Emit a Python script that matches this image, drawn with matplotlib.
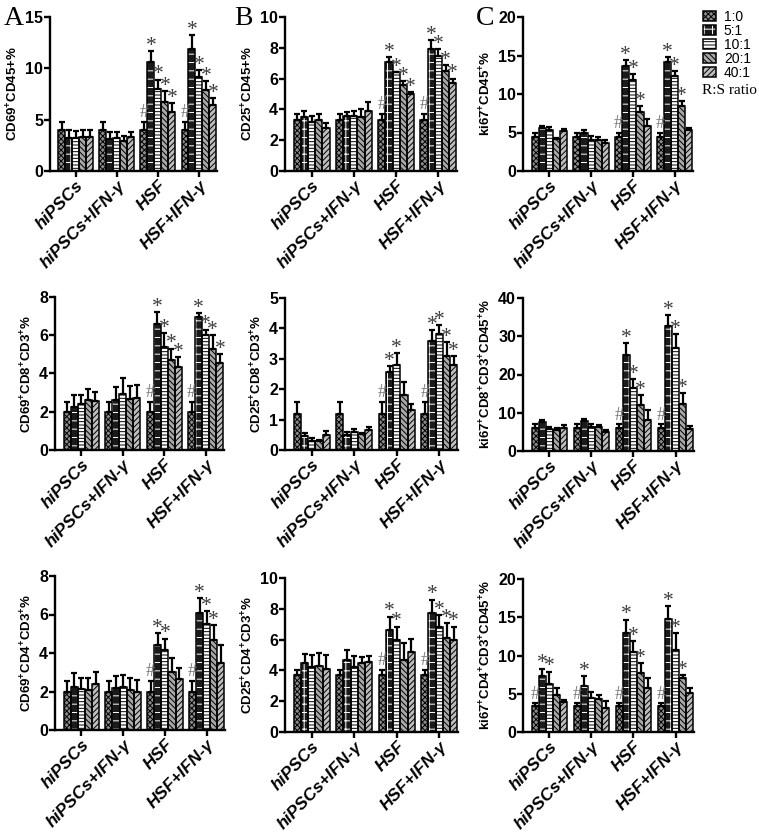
import numpy as np
import matplotlib.pyplot as plt
from matplotlib.patches import Patch

plt.rcParams['hatch.linewidth'] = 0.7
plt.rcParams['mathtext.fontset'] = 'custom'
plt.rcParams['mathtext.bf'] = 'Liberation Sans:bold'
plt.rcParams['mathtext.rm'] = 'Liberation Sans'

groups = ['hiPSCs', 'hiPSCs+IFN-γ', 'HSF', 'HSF+IFN-γ']
ratios = ['1:0', '5:1', '10:1', '20:1', '40:1']

# rows = groups, columns = ratios
cd69_cd45_mean = [[4.0, 3.2, 3.2, 3.3, 3.3], [4.0, 3.1, 3.2, 2.9, 3.3],
                  [4.0, 10.6, 8.0, 6.7, 5.7], [4.0, 11.9, 9.2, 7.9, 6.4]]
cd69_cd45_err = [[0.8, 0.8, 0.7, 0.7, 0.7], [0.8, 0.7, 0.6, 0.5, 0.5],
                 [0.8, 1.1, 0.9, 1.1, 0.9], [0.8, 1.3, 0.6, 0.9, 0.7]]
cd25_cd45_mean = [[3.3, 3.5, 3.2, 3.3, 2.8], [3.3, 3.6, 3.6, 3.5, 3.9],
                  [3.3, 7.1, 6.4, 5.6, 5.0], [3.3, 7.9, 7.5, 6.5, 5.7]]
cd25_cd45_err = [[0.4, 0.4, 0.4, 0.4, 0.3], [0.4, 0.2, 0.3, 0.5, 0.6],
                 [0.4, 0.3, 0.05, 0.25, 0.15], [0.4, 0.6, 0.4, 0.4, 0.3]]
ki67_cd45_mean = [[4.4, 5.6, 5.3, 4.1, 5.2], [4.4, 4.9, 4.0, 4.0, 3.7],
                  [4.4, 13.6, 11.8, 7.7, 5.8], [4.4, 14.2, 12.3, 8.4, 5.3]]
ki67_cd45_err = [[0.6, 0.2, 0.4, 0.2, 0.3], [0.6, 0.4, 0.5, 0.4, 0.3],
                 [0.6, 0.8, 0.8, 0.7, 1.0], [0.6, 0.6, 0.7, 0.7, 0.3]]

cd69_cd8_mean = [[2.0, 2.25, 2.4, 2.6, 2.55], [2.0, 2.6, 2.95, 2.65, 2.7],
                 [2.0, 6.6, 5.4, 4.7, 4.35], [2.0, 6.95, 6.0, 5.3, 4.55]]
cd69_cd8_err = [[0.5, 0.6, 0.5, 0.6, 0.5], [0.5, 0.7, 0.8, 0.7, 0.7],
                [0.5, 0.6, 0.7, 0.6, 0.5], [0.5, 0.2, 0.3, 0.7, 0.45]]
cd25_cd8_mean = [[1.2, 0.45, 0.3, 0.28, 0.5], [1.2, 0.5, 0.6, 0.52, 0.65],
                 [1.2, 2.55, 2.8, 1.8, 1.32], [1.2, 3.6, 3.8, 3.08, 2.8]]
cd25_cd8_err = [[0.38, 0.12, 0.1, 0.06, 0.12], [0.38, 0.1, 0.1, 0.03, 0.12],
                [0.38, 0.22, 0.38, 0.45, 0.18], [0.38, 0.35, 0.3, 0.48, 0.3]]
ki67_cd8_mean = [[6.0, 7.7, 5.7, 5.5, 6.0], [6.0, 7.8, 6.2, 6.3, 5.0],
                 [6.0, 25.0, 16.5, 12.0, 8.0], [6.0, 32.8, 26.8, 12.3, 5.8]]
ki67_cd8_err = [[1.0, 0.5, 0.5, 0.5, 0.8], [1.0, 0.5, 0.8, 0.5, 0.6],
                [1.0, 3.2, 2.3, 2.7, 2.7], [1.0, 2.8, 3.8, 2.9, 0.7]]

cd69_cd4_mean = [[2.0, 2.25, 2.15, 2.1, 2.4], [2.0, 2.2, 2.25, 2.1, 2.0],
                 [2.0, 4.4, 4.15, 3.0, 2.65], [2.0, 6.1, 5.5, 4.7, 3.5]]
cd69_cd4_err = [[0.55, 0.7, 0.55, 0.6, 0.6], [0.55, 0.6, 0.6, 0.6, 0.6],
                [0.55, 0.65, 0.6, 0.75, 0.55], [0.55, 0.75, 0.7, 0.75, 0.9]]
cd25_cd4_mean = [[3.7, 4.45, 4.2, 4.3, 4.1], [3.7, 4.65, 4.2, 4.5, 4.55],
                 [3.7, 6.6, 5.95, 4.65, 5.2], [3.7, 7.7, 6.85, 6.1, 6.0]]
cd25_cd4_err = [[0.35, 0.6, 0.8, 0.85, 0.9], [0.35, 0.65, 0.75, 0.4, 0.4],
                [0.35, 0.9, 0.9, 1.15, 0.85], [0.35, 0.9, 0.75, 0.95, 0.85]]
ki67_cd4_mean = [[3.4, 7.3, 6.3, 4.9, 3.9], [3.4, 6.0, 4.4, 4.3, 3.2],
                 [3.4, 13.0, 10.4, 7.7, 5.7], [3.4, 14.8, 10.7, 7.0, 5.1]]
ki67_cd4_err = [[0.35, 1.0, 1.6, 0.9, 0.3], [0.35, 1.3, 0.8, 0.5, 0.8],
                [0.35, 1.7, 1.5, 1.3, 1.4], [0.35, 1.7, 2.2, 0.4, 0.7]]

# significance marks as (group, ratio) indices
star_all = [(2, 1), (2, 2), (2, 3), (2, 4), (3, 1), (3, 2), (3, 3), (3, 4)]
star_3 = [(2, 1), (2, 2), (2, 3), (3, 1), (3, 2), (3, 3)]
hash_hsf = [(2, 0), (3, 0)]

panels = [
    # (mean, err, ylabel, ymax, ystep, stars, hashes, rect px [left, top, right, bottom])
    (cd69_cd45_mean, cd69_cd45_err, r'CD69$^{\mathbf{+}}$CD45+%', 15, 5,
     star_all, hash_hsf, [50, 17, 217, 171]),
    (cd25_cd45_mean, cd25_cd45_err, r'CD25$^{\mathbf{+}}$CD45+%', 10, 2,
     star_all, hash_hsf, [285, 17, 457, 171]),
    (ki67_cd45_mean, ki67_cd45_err, r'ki67$^{\mathbf{+}}$CD45$^{\mathbf{+}}$%', 20, 5,
     star_3, hash_hsf, [523, 17, 693, 171]),
    (cd69_cd8_mean, cd69_cd8_err, r'CD69$^{\mathbf{+}}$CD8$^{\mathbf{+}}$CD3$^{\mathbf{+}}$%', 8, 2,
     star_all, hash_hsf, [55, 297, 224, 450]),
    (cd25_cd8_mean, cd25_cd8_err, r'CD25$^{\mathbf{+}}$CD8$^{\mathbf{+}}$CD3$^{\mathbf{+}}$%', 5, 1,
     [(2, 1), (2, 2), (3, 1), (3, 2), (3, 3), (3, 4)], hash_hsf, [285, 298, 458, 450]),
    (ki67_cd8_mean, ki67_cd8_err,
     r'ki67$^{\mathbf{+}}$CD8$^{\mathbf{+}}$CD3$^{\mathbf{+}}$CD45$^{\mathbf{+}}$%', 40, 10,
     star_3, hash_hsf, [523, 298, 694, 451]),
    (cd69_cd4_mean, cd69_cd4_err, r'CD69$^{\mathbf{+}}$CD4$^{\mathbf{+}}$CD3$^{\mathbf{+}}$%', 8, 2,
     [(2, 1), (2, 2), (3, 1), (3, 2), (3, 3)], hash_hsf, [55, 576, 225, 730]),
    (cd25_cd4_mean, cd25_cd4_err, r'CD25$^{\mathbf{+}}$CD4$^{\mathbf{+}}$CD3$^{\mathbf{+}}$%', 10, 2,
     [(2, 1), (2, 2), (3, 1), (3, 2), (3, 3), (3, 4)], hash_hsf, [285, 578, 458, 732]),
    (ki67_cd4_mean, ki67_cd4_err,
     r'ki67$^{\mathbf{+}}$CD4$^{\mathbf{+}}$CD3$^{\mathbf{+}}$CD45$^{\mathbf{+}}$%', 20, 5,
     [(0, 1), (0, 2), (1, 1), (2, 1), (2, 2), (2, 3), (3, 1), (3, 2), (3, 3)],
     [(0, 0), (1, 0), (2, 0), (3, 0)], [523, 579, 694, 732]),
]

# bar styles: face colour, hatch colour, hatch
faces = ['#8c8c8c', '#1a1a1a', 'white', '#a8a8a8', '#bdbdbd']
hatch_cols = ['black', 'white', 'black', 'black', 'black']
hatches = ['xxxxxx', '++', '-----', '\\\\\\\\\\\\', '//////']

W, H = 759, 832
fig = plt.figure(figsize=(W / 100, H / 100), dpi=100)
sans = ['Liberation Sans Narrow', 'Liberation Sans', 'DejaVu Sans']

bw = 0.17
x = np.arange(len(groups))
for mean, err, ylabel, ymax, ystep, stars, hashes, (l, t, r, b) in panels:
    ax = fig.add_axes([l / W, 1 - b / H, (r - l) / W, (b - t) / H])
    mean = np.array(mean)
    err = np.array(err)
    for j in range(len(ratios)):
        xs = x + (j - 2) * bw
        # fill + hatch first, then black outline on top
        ax.bar(xs, mean[:, j], bw, color=faces[j], edgecolor=hatch_cols[j], hatch=hatches[j],
               linewidth=0, zorder=2)
        ax.bar(xs, mean[:, j], bw, fill=False, edgecolor='black', linewidth=1.1, zorder=2.5)
        ax.errorbar(xs, mean[:, j], yerr=[np.zeros(len(groups)), err[:, j]], fmt='none',
                    ecolor='black', elinewidth=1.6, capsize=2.5, capthick=1.6, zorder=3)
    for g, j in stars:
        ax.annotate('*', (x[g] + (j - 2) * bw, mean[g, j] + err[g, j]), xytext=(0, -3.5),
                    textcoords='offset points', ha='center', va='bottom',
                    family='Liberation Serif', fontsize=15.5, color='#3c3c3c')
    for g, j in hashes:
        ax.annotate('#', (x[g] + (j - 2) * bw, mean[g, j] + err[g, j]), xytext=(0, 0.5),
                    textcoords='offset points', ha='center', va='bottom',
                    family='Liberation Serif', fontsize=13, color='#777777')
    ax.set_xlim(-0.63, 3.44)
    ax.set_ylim(0, ymax)
    ax.set_yticks(np.arange(0, ymax + ystep / 2, ystep))
    ax.set_xticks(x)
    ax.set_xticklabels(groups, rotation=46, ha='right', rotation_mode='anchor',
                       fontweight='bold', style='italic', family=sans, fontsize=12.5)
    for lab in ax.get_yticklabels():
        lab.set_fontweight('bold')
        lab.set_family(sans)
        lab.set_fontsize(11.5)
    ax.set_ylabel(ylabel, fontweight='bold', family='Liberation Sans', fontsize=9.5,
                  labelpad=3)
    for s in ['top', 'right']:
        ax.spines[s].set_visible(False)
    for s in ['left', 'bottom']:
        ax.spines[s].set_linewidth(1.7)
    ax.tick_params(axis='both', width=1.7, length=4, pad=1)

for letter, px in [('A', 4), ('B', 234), ('C', 476)]:
    fig.text(px / W, 1 - 6 / H, letter, family='Liberation Serif', fontsize=20,
             va='top', ha='left')

handles = [(Patch(facecolor=faces[j], edgecolor=hatch_cols[j], hatch=hatches[j], linewidth=0),
            Patch(fill=False, edgecolor='black', linewidth=1.1)) for j in range(5)]
leg = fig.legend(handles, ratios, loc='upper left', bbox_to_anchor=(703 / W, 1 - 10 / H),
                 frameon=False, handlelength=0.9, handleheight=0.8, handletextpad=0.6,
                 labelspacing=0.0, borderpad=0, borderaxespad=0,
                 prop={'family': 'Liberation Sans', 'size': 10})
fig.text(702 / W, 1 - 90 / H, 'R:S ratio', family='Liberation Serif', fontsize=11,
         va='center', ha='left')

plt.savefig('out.png', dpi=100)
